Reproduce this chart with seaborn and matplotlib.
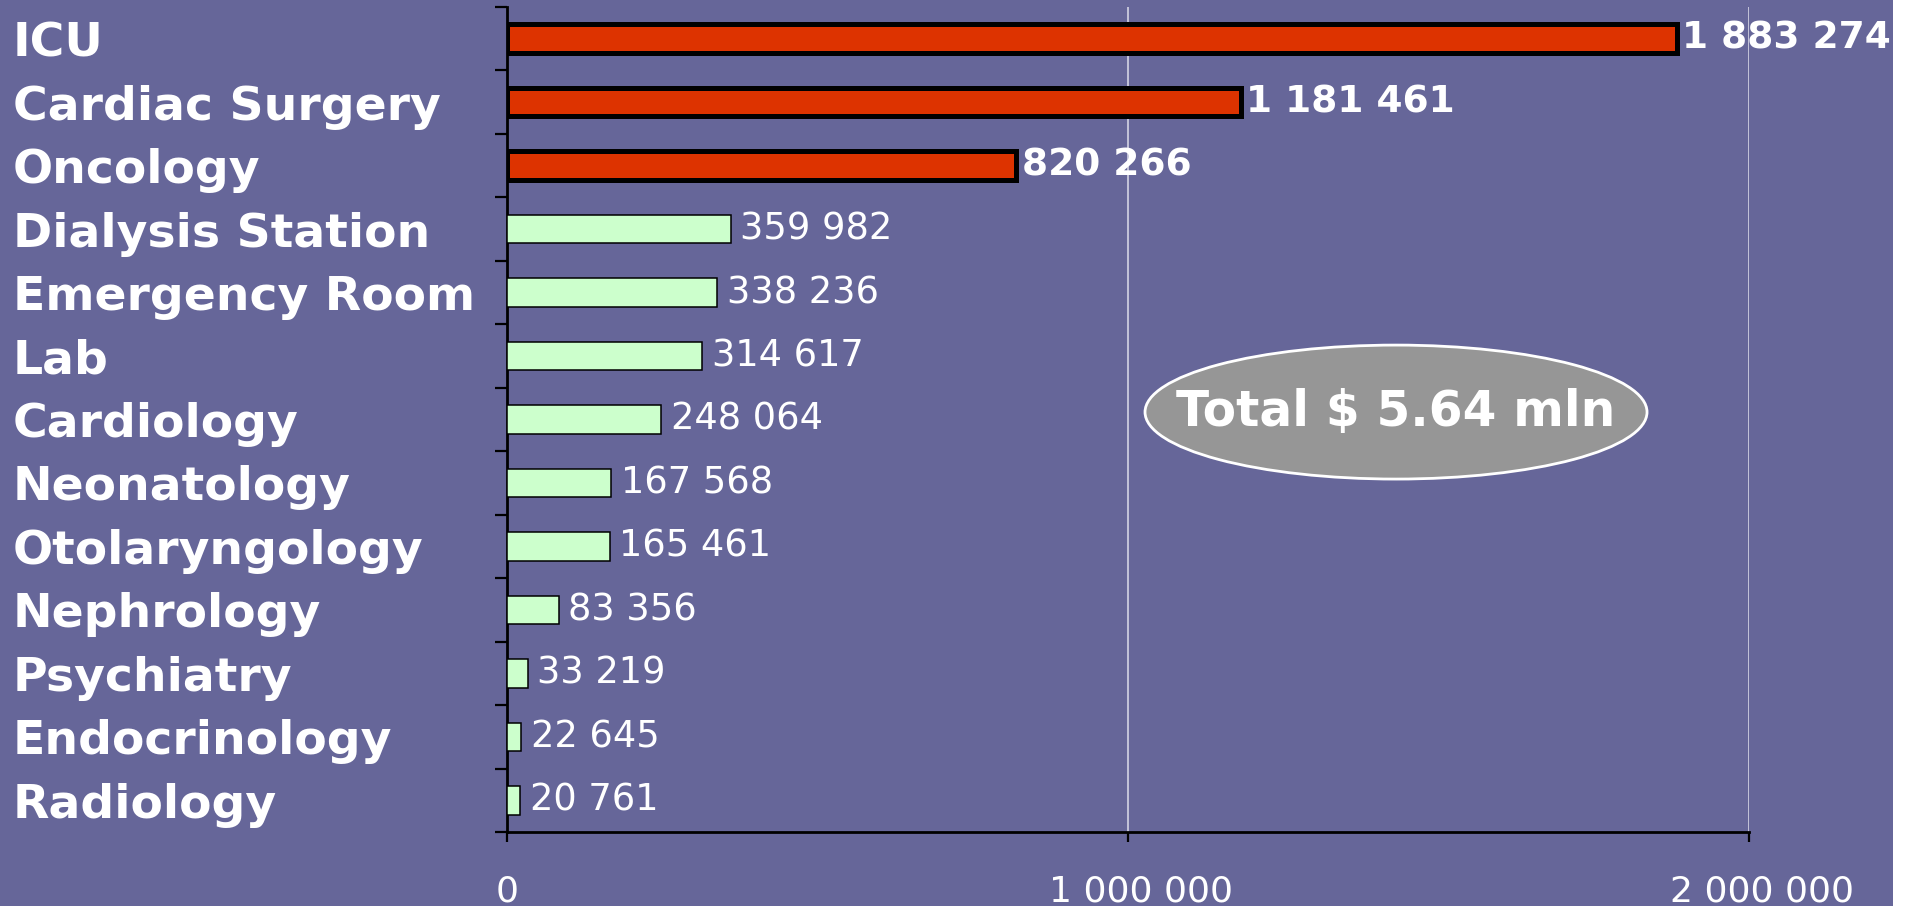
import matplotlib
matplotlib.use("Agg")
import matplotlib.pyplot as plt
from matplotlib.patches import Ellipse, Rectangle
from matplotlib.ticker import FixedLocator
from matplotlib.transforms import ScaledTranslation
import seaborn as sns
import pandas as pd

departments = ["ICU", "Cardiac Surgery", "Oncology", "Dialysis Station",
               "Emergency Room", "Lab", "Cardiology", "Neonatology",
               "Otolaryngology", "Nephrology", "Psychiatry", "Endocrinology",
               "Radiology"]
costs = [1883274, 1181461, 820266, 359982, 338236, 314617, 248064,
         167568, 165461, 83356, 33219, 22645, 20761]
highlighted = ["ICU", "Cardiac Surgery", "Oncology"]
x_ticks = [0, 1000000, 2000000]
total_label = "Total $ 5.64 mln"

bg = "#666699"
red = "#dd3300"
green = "#ccffcc"

sns.set_theme(style="white")
plt.rcParams["font.family"] = ["DejaVu Sans"]


def fmt(v):
    return f"{v:,.0f}".replace(",", " ")


df = pd.DataFrame({"department": departments, "cost": costs})
df["group"] = ["top" if d in highlighted else "rest" for d in departments]
groups = ["top", "rest"]

fig = plt.figure(figsize=(19.1, 9.06), dpi=100, facecolor=bg)
ax = fig.add_axes([507 / 1910, 74 / 906, 1242 / 1910, 825 / 906])
ax.set_facecolor(bg)

sns.barplot(data=df, x="cost", y="department", hue="group", hue_order=groups,
            palette={"top": red, "rest": green}, saturation=1, dodge=False,
            legend=False, width=0.45, orient="h", ax=ax, zorder=3)

# thick black edge + bold labels on the big three, thin on the rest
for grp, c in zip(groups, ax.containers):
    is_top = grp == "top"
    for p in c.patches:
        p.set_edgecolor("black")
        p.set_linewidth(3.6 if is_top else 1.1)
    ax.bar_label(c, labels=[fmt(v) for v in c.datavalues],
                 padding=4 if is_top else 7, color="white",
                 fontsize=27 if is_top else 26.5,
                 fontweight="bold" if is_top else "normal")

ax.set_xlim(0, 2000000)
ax.set_ylim(len(departments) - 0.5, -0.5)
ax.set_xticks(x_ticks)
ax.set_xticklabels([fmt(v) for v in x_ticks])
ax.set_xlabel("")
ax.set_ylabel("")

ax.yaxis.set_minor_locator(FixedLocator([i - 0.5 for i in range(len(departments) + 1)]))
ax.tick_params(axis="y", which="major", length=0, pad=356, labelsize=34,
               labelcolor="white")
ax.tick_params(axis="y", which="minor", left=True, length=9, width=1.6,
               color="black", direction="out")
ax.tick_params(axis="x", which="major", bottom=True, length=7.5, width=1.6,
               color="black", direction="out", pad=23, labelsize=26,
               labelcolor="white")
for lbl in ax.get_yticklabels():
    lbl.set_fontweight("bold")
    lbl.set_horizontalalignment("left")
# the big tick labels sit a little right of their ticks in the original
shift = ScaledTranslation(0.13, 0, fig.dpi_scale_trans)
for lbl in ax.get_xticklabels()[1:]:
    lbl.set_transform(lbl.get_transform() + shift)

ax.xaxis.grid(True, color="#d4d4e4", linewidth=1.2)
ax.yaxis.grid(False)
ax.set_axisbelow(True)
for s in ["top", "right"]:
    ax.spines[s].set_visible(False)
for s in ["left", "bottom"]:
    ax.spines[s].set_color("black")
    ax.spines[s].set_linewidth(2)

ell = Ellipse((0.7158, 0.509), width=0.4042, height=0.1624,
              transform=ax.transAxes, facecolor="#969696", edgecolor="white",
              linewidth=2, zorder=5)
ax.add_patch(ell)
ax.text(0.7158, 0.509, total_label, transform=ax.transAxes, ha="center",
        va="center", color="white", fontsize=35, fontweight="bold", zorder=6)

fig.patches.append(Rectangle((1893 / 1910, 0), 1, 1, transform=fig.transFigure,
                             facecolor="white", edgecolor="none", zorder=10))

fig.savefig("out.png", dpi=100, facecolor=bg)
